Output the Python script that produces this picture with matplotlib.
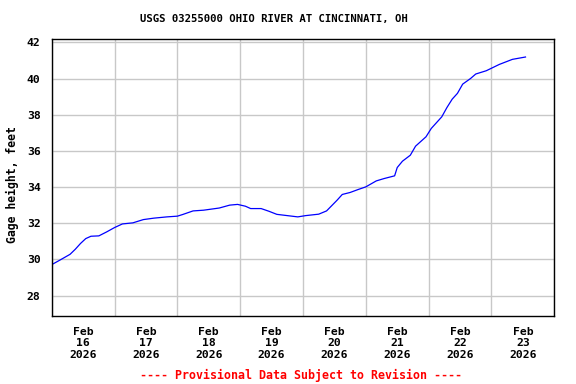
import datetime as dt

import matplotlib
matplotlib.use("Agg")
import matplotlib.pyplot as plt
import matplotlib.dates as mdates

# Gage height readings, hours after 2026-02-16 00:00
hours = [0, 3, 7, 9, 11, 13, 15, 18, 21, 24, 27, 31, 35, 39, 44, 48, 50, 54,
         58, 64, 68, 71, 74, 76, 80, 83, 86, 90, 94, 97, 102, 105, 109, 111,
         114, 117, 120, 124, 127, 131, 132, 134, 137, 139, 143, 145, 149, 151,
         153, 155, 157, 160, 162, 166, 171, 176, 181]
gage_ft = [29.71, 29.95, 30.28, 30.56, 30.88, 31.15, 31.28, 31.30, 31.52,
           31.76, 31.96, 32.02, 32.20, 32.28, 32.35, 32.39, 32.48, 32.68,
           32.72, 32.84, 33.00, 33.04, 32.94, 32.81, 32.81, 32.66, 32.49,
           32.42, 32.35, 32.42, 32.50, 32.68, 33.27, 33.59, 33.70, 33.86,
           34.01, 34.34, 34.47, 34.62, 35.08, 35.43, 35.76, 36.26, 36.78,
           37.24, 37.88, 38.40, 38.86, 39.18, 39.69, 40.00, 40.25, 40.43,
           40.78, 41.06, 41.19]

start = dt.datetime(2026, 2, 16)
times = [start + dt.timedelta(hours=h) for h in hours]

y_ticks = [28, 30, 32, 34, 36, 38, 40, 42]
day_labels = ["Feb\n%d\n2026" % d for d in range(16, 24)]

mono = "DejaVu Sans Mono"

fig = plt.figure(figsize=(5.76, 3.84), dpi=100)
ax = fig.add_axes([0.0898, 0.1771, 0.8725, 0.7206])

ax.plot(times, gage_ft, color="#0000ff", linewidth=0.9)

ax.set_xlim(start, start + dt.timedelta(days=8))
ax.set_ylim(26.87, 42.17)

# Gridlines at midnight, labels at noon
ax.xaxis.set_minor_locator(mdates.DayLocator())
ax.set_xticks([start + dt.timedelta(days=i, hours=12) for i in range(8)])
ax.set_xticklabels(day_labels, fontfamily=mono, fontweight="bold",
                   fontsize=8.2, linespacing=1.17)
ax.set_yticks(y_ticks)
ax.set_yticklabels([str(v) for v in y_ticks], fontfamily=mono,
                   fontweight="bold", fontsize=8.2)

ax.grid(True, which="minor", axis="x", color="#c8c8c8", linewidth=1)
ax.grid(True, which="major", axis="y", color="#c8c8c8", linewidth=1)
ax.set_axisbelow(True)
ax.tick_params(axis="both", which="both", length=0)
ax.tick_params(axis="x", pad=8)
ax.tick_params(axis="y", pad=8)
for s in ax.spines.values():
    s.set_linewidth(1)
    s.set_color("black")

fig.text(0.0208, 0.52, "Gage height, feet", rotation=90, ha="center",
         va="center", fontfamily=mono, fontweight="bold", fontsize=8.3)
fig.text(273.5 / 576, 1 - 19 / 384, "USGS 03255000 OHIO RIVER AT CINCINNATI, OH",
         ha="center", va="center", fontfamily=mono, fontweight="bold",
         fontsize=7.7)
fig.text(301 / 576, 1 - 375 / 384,
         "---- Provisional Data Subject to Revision ----",
         ha="center", va="center", color="red", fontfamily=mono,
         fontweight="bold", fontsize=8.4)

fig.savefig("out.png", dpi=100)
